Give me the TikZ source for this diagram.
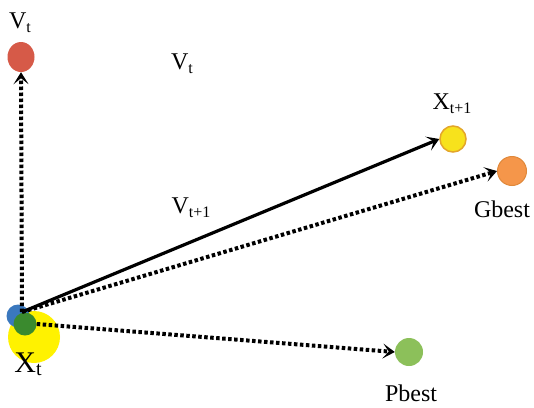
\documentclass[tikz,border=0pt]{standalone}
\usepackage{fontspec}
\setmainfont{Liberation Serif}
\usetikzlibrary{arrows.meta,shapes.geometric}
\definecolor{cred}{HTML}{D65A48}
\definecolor{cblue}{HTML}{3A78BE}
\definecolor{cgreen}{HTML}{3A8A2E}
\definecolor{cyel}{HTML}{FFF200}
\definecolor{cxy}{HTML}{F7E21C}
\definecolor{cxyb}{HTML}{E3A52A}
\definecolor{corange}{HTML}{F5964A}
\definecolor{corangeb}{HTML}{E0883A}
\definecolor{cpb}{HTML}{8CC05A}
\newcommand{\subtx}[1]{\raisebox{-4pt}{\fontsize{16}{18}\selectfont #1}}
\begin{document}
\begin{tikzpicture}[x=1pt,y=-1pt,
  lbl/.style={font=\fontsize{24}{26}\selectfont, inner sep=0pt},
  dotline/.style={line width=4pt, dash pattern=on 3.5pt off 2.5pt, -{Stealth[length=12pt,width=15pt,inset=6pt]}},
  solidline/.style={line width=3.2pt, -{Stealth[length=12pt,width=15pt,inset=6pt]}},
  ball/.style={circle, inner sep=0pt, minimum size=#1}]
\useasboundingbox[fill=white] (0,0) rectangle (534,407);
% X_t cluster
\node[ball=52pt, fill=cyel] (xty) at (34,337) {};
\node[ball=23pt, fill=cblue] (xtb) at (18,316) {};
\node[ball=23pt, fill=cgreen] (xtg) at (25,324) {};
\coordinate (o) at (22,312);
% targets
\node[ellipse, draw=none, fill=cred, inner sep=0pt, minimum width=27pt, minimum height=30pt] (vt) at (21,57) {};
\node[ball=26pt, fill=cxy, draw=cxyb, line width=1.5pt] (xt1) at (453,139) {};
\node[ball=29pt, fill=corange, draw=corangeb, line width=1pt] (gb) at (512,171) {};
\node[ball=28pt, fill=cpb] (pb) at (409,352) {};
% labels
\node[lbl] (lvt) at (20,23) {V\subtx{t}};
\node[lbl] (lvtm) at (182,64) {V\subtx{t}};
\node[lbl] (lvt1) at (191,208) {V\subtx{t+1}};
\node[lbl] (lxt1) at (452,104) {X\subtx{t+1}};
\node[lbl] (lgb) at (502,209) {Gbest};
\node[lbl] (lpb) at (411,393) {Pbest};
\node[lbl, font=\fontsize{30}{32}\selectfont] (lxt) at (28,364) {X\raisebox{-3pt}{\fontsize{20}{22}\selectfont t}};
% connectors
\draw[dotline] (o) -- (vt.south);
\draw[dotline] (o) -- (gb.west);
\draw[dotline] (xtg.east) -- (pb.west);
\draw[solidline] (o) -- (xt1.west);
\end{tikzpicture}
\end{document}
